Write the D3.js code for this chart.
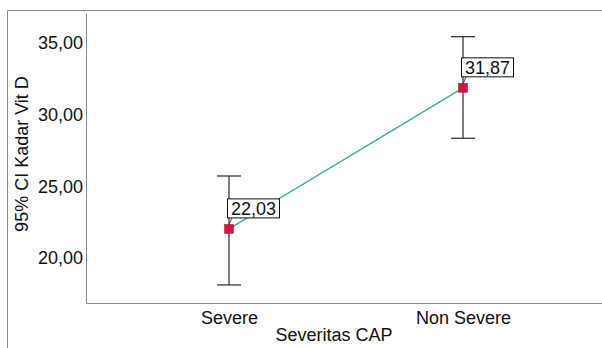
<!DOCTYPE html>
<html>
<head>
<meta charset="utf-8">
<script src="https://cdn.jsdelivr.net/npm/d3@7"></script>
<style>
  body { margin: 0; background: #fff; }
  text { font-family: "Liberation Sans", Arial, Helvetica, sans-serif; }
</style>
</head>
<body>
<div id="chart"></div>
<script>
// data
const categories = ["Severe", "Non Severe"];
const means = [22.03, 31.87];
const lowerCI = [18.12, 28.35];
const upperCI = [25.72, 35.44];
const yTicks = [20, 25, 30, 35];

const W = 602, H = 348;
const margin = {top: 13, right: -4, bottom: 45, left: 86};
const plotW = W - margin.left - margin.right;
const plotH = H - margin.top - margin.bottom;

const locale = d3.formatLocale({decimal: ",", thousands: ".", grouping: [3], currency: ["", ""]});
const fmt = locale.format(".2f");

const svg = d3.select("#chart")
    .append("svg")
    .attr("width", W)
    .attr("height", H);

// outer frame (left + top only)
svg.append("path")
    .attr("d", `M7.5,${H} V10.5 H${W}`)
    .attr("fill", "none")
    .attr("stroke", "#8a8a8a");

const g = svg.append("g")
    .attr("transform", `translate(${margin.left}, ${margin.top})`);

const x = d3.scalePoint()
    .domain(categories)
    .range([0, plotW])
    .padding(0.611);

const y = d3.scaleLinear()
    .domain([16.86, 37.09])
    .range([plotH, 0]);

// axes
const yAxis = g.append("g")
    .call(d3.axisLeft(y).tickValues(yTicks).tickSize(0).tickPadding(3).tickFormat(fmt));
yAxis.select(".domain").attr("stroke", "#8a8a8a");
yAxis.selectAll("text").style("font-size", "18px").attr("fill", "#111");

const xAxis = g.append("g")
    .attr("transform", `translate(0, ${plotH})`)
    .call(d3.axisBottom(x).tickSize(0).tickPadding(8));
xAxis.select(".domain").attr("stroke", "#8a8a8a");
xAxis.selectAll("text").style("font-size", "18px").attr("fill", "#111");

// axis titles
svg.append("text")
    .attr("x", 334)
    .attr("y", 341)
    .attr("text-anchor", "middle")
    .style("font-size", "18px")
    .attr("fill", "#111")
    .text("Severitas CAP");

svg.append("text")
    .attr("transform", `translate(28, 154) rotate(-90)`)
    .attr("text-anchor", "middle")
    .style("font-size", "18px")
    .attr("fill", "#111")
    .text("95% CI Kadar Vit D");

const pts = categories.map((c, i) => ({cat: c, mean: means[i], lo: lowerCI[i], hi: upperCI[i]}));

// error bars
const capHalf = 12;
const bars = g.selectAll(".ebar")
    .data(pts)
    .join("g")
    .attr("class", "ebar")
    .attr("stroke", "#3a3a3a")
    .attr("stroke-width", 1.3);
bars.append("line")
    .attr("x1", d => x(d.cat)).attr("x2", d => x(d.cat))
    .attr("y1", d => y(d.hi)).attr("y2", d => y(d.lo));
bars.append("line")
    .attr("x1", d => x(d.cat) - capHalf).attr("x2", d => x(d.cat) + capHalf)
    .attr("y1", d => y(d.hi)).attr("y2", d => y(d.hi));
bars.append("line")
    .attr("x1", d => x(d.cat) - capHalf).attr("x2", d => x(d.cat) + capHalf)
    .attr("y1", d => y(d.lo)).attr("y2", d => y(d.lo));

// mean line
g.append("path")
    .datum(pts)
    .attr("fill", "none")
    .attr("stroke", "#38a99b")
    .attr("stroke-width", 1.3)
    .attr("d", d3.line().x(d => x(d.cat)).y(d => y(d.mean)));

// markers
const ms = 9;
g.selectAll(".marker")
    .data(pts)
    .join("rect")
    .attr("class", "marker")
    .attr("x", d => x(d.cat) - ms / 2)
    .attr("y", d => y(d.mean) - ms / 2)
    .attr("width", ms)
    .attr("height", ms)
    .attr("fill", "#d3173f")
    .attr("stroke", "#a81035")
    .attr("stroke-width", 0.5);

// value labels
const boxW = 52, boxH = 19, gap = 11;
const labels = g.selectAll(".vlabel")
    .data(pts)
    .join("g")
    .attr("class", "vlabel");
labels.append("line")
    .attr("x1", d => x(d.cat) + 3)
    .attr("y1", d => y(d.mean) - gap)
    .attr("x2", d => x(d.cat))
    .attr("y2", d => y(d.mean) - 4)
    .attr("stroke", "#444")
    .attr("stroke-width", 1);
labels.append("rect")
    .attr("x", d => x(d.cat) - 1.5)
    .attr("y", d => y(d.mean) - gap - boxH)
    .attr("width", boxW)
    .attr("height", boxH)
    .attr("fill", "#fff")
    .attr("stroke", "#111")
    .attr("stroke-width", 1);
labels.append("text")
    .attr("x", d => x(d.cat) - 1.5 + boxW / 2)
    .attr("y", d => y(d.mean) - gap - boxH / 2)
    .attr("dy", "0.36em")
    .attr("text-anchor", "middle")
    .style("font-size", "18px")
    .attr("fill", "#111")
    .text(d => fmt(d.mean));
</script>
</body>
</html>
